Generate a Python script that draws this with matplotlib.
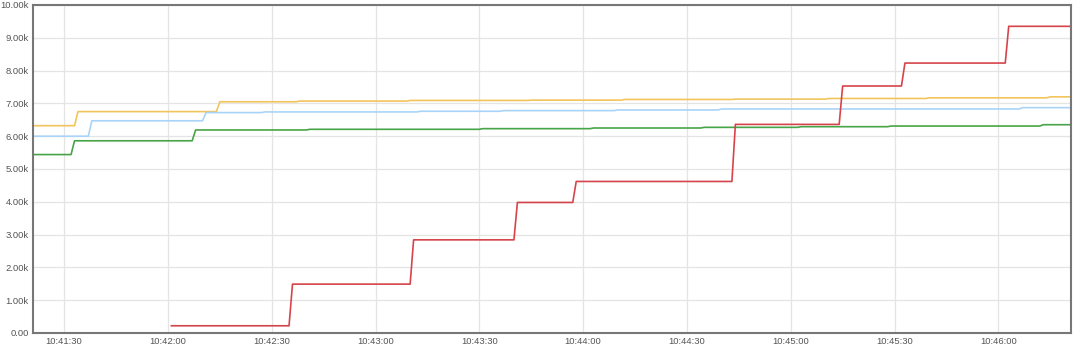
import pandas as pd
import matplotlib
matplotlib.use('Agg')
from matplotlib import pyplot as plt
import matplotlib.dates as mdates
from matplotlib.ticker import FuncFormatter

plt.rcParams['font.family'] = ['Liberation Sans', 'DejaVu Sans']

day = '2020-01-01 '

# red series: plateau ends / next plateau starts
red_times = ['10:42:01', '10:42:35', '10:42:36', '10:43:10', '10:43:11', '10:43:40', '10:43:41',
             '10:43:57', '10:43:58', '10:44:43', '10:44:44', '10:45:14', '10:45:15',
             '10:45:32', '10:45:33', '10:46:02', '10:46:03', '10:46:21']
red_values = [220, 220, 1490, 1490, 2840, 2840, 3980, 3980, 4620, 4620, 6360, 6360, 7530,
              7530, 8230, 8230, 9350, 9350]

yellow_times = ['10:41:21', '10:41:33', '10:41:34', '10:42:14', '10:42:15', '10:42:37', '10:42:38',
                '10:43:09', '10:43:10', '10:43:44', '10:43:45', '10:44:11', '10:44:12',
                '10:44:43', '10:44:44', '10:45:10', '10:45:11', '10:45:39', '10:45:40',
                '10:46:14', '10:46:15', '10:46:21']
yellow_values = [6320, 6320, 6750, 6750, 7050, 7050, 7070, 7070, 7090, 7090, 7100, 7100, 7120,
                 7120, 7130, 7130, 7150, 7150, 7170, 7170, 7200, 7200]

blue_times = ['10:41:21', '10:41:37', '10:41:38', '10:42:10', '10:42:11', '10:42:27', '10:42:28',
              '10:43:12', '10:43:13', '10:43:36', '10:43:37', '10:44:09', '10:44:10',
              '10:44:39', '10:44:40', '10:46:06', '10:46:07', '10:46:21']
blue_values = [6000, 6000, 6470, 6470, 6720, 6720, 6740, 6740, 6760, 6760, 6780, 6780, 6800,
               6800, 6830, 6830, 6870, 6870]

green_times = ['10:41:21', '10:41:32', '10:41:33', '10:42:07', '10:42:08', '10:42:40', '10:42:41',
               '10:43:30', '10:43:31', '10:44:02', '10:44:03', '10:44:34', '10:44:35',
               '10:45:02', '10:45:03', '10:45:28', '10:45:29', '10:46:12', '10:46:13', '10:46:21']
green_values = [5440, 5440, 5860, 5860, 6190, 6190, 6210, 6210, 6230, 6230, 6250, 6250, 6270,
                6270, 6290, 6290, 6310, 6310, 6350, 6350]

tick_times = ['10:41:30', '10:42:00', '10:42:30', '10:43:00', '10:43:30', '10:44:00',
              '10:44:30', '10:45:00', '10:45:30', '10:46:00']

def to_dt(ts):
    return pd.to_datetime([day + t for t in ts])

fig = plt.figure(figsize=(10.8, 3.56), dpi=100)
ax = fig.add_axes([33/1080, 23/356, 1038/1080, 328/356])

ax.plot(to_dt(yellow_times), yellow_values, color='#F2C55C', lw=1.2)
ax.plot(to_dt(blue_times), blue_values, color='#A9D4F7', lw=1.2)
ax.plot(to_dt(green_times), green_values, color='#47A447', lw=1.2)
ax.plot(to_dt(red_times), red_values, color='#D6444B', lw=1.2)

ax.set_xlim(pd.Timestamp(day + '10:41:21'), pd.Timestamp(day + '10:46:21'))
ax.set_ylim(0, 10000)
ax.set_yticks(range(0, 10001, 1000))
ax.yaxis.set_major_formatter(FuncFormatter(lambda v, p: '0.00' if v == 0 else '%.2fk' % (v / 1000)))
ax.set_xticks(to_dt(tick_times))
ax.xaxis.set_major_formatter(mdates.DateFormatter('%H:%M:%S'))

ax.grid(True, color='#e4e4e4', lw=0.9)
ax.set_axisbelow(True)
for s in ax.spines.values():
    s.set_color('#777777')
    s.set_linewidth(1.5)
ax.tick_params(length=0, labelsize=6.8, colors='#555555', pad=3)

plt.savefig('out.png', dpi=100)
